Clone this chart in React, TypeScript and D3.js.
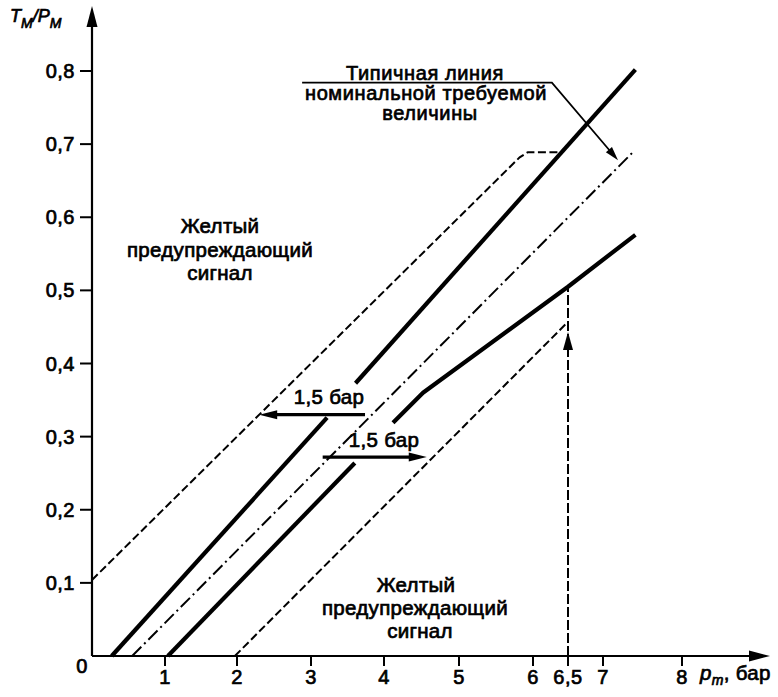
import React from 'react';
import * as d3 from 'd3';

// ---------- data (bar, T_M/P_M) ----------
const xTickValues = [1, 2, 3, 4, 5, 6, 6.5, 7, 8];
const xTickLabels = ['1', '2', '3', '4', '5', '6', '6,5', '7', '8'];
const yTickValues = [0.1, 0.2, 0.3, 0.4, 0.5, 0.6, 0.7, 0.8];
const yTickLabels = ['0,1', '0,2', '0,3', '0,4', '0,5', '0,6', '0,7', '0,8'];

const upperLimitDashed: [number, number][] = [[0, 0.104], [5.82, 0.682], [5.93, 0.689], [6.41, 0.689]];
const nominalDashDot: [number, number][] = [[0.55, 0], [7.37, 0.688]];
const upperSolidA: [number, number][] = [[0.27, 0], [3.22, 0.326]];
const upperSolidB: [number, number][] = [[3.61, 0.373], [7.41, 0.802]];
const lowerSolidA: [number, number][] = [[1.04, 0], [3.6, 0.264]];
const lowerSolidB: [number, number][] = [[4.12, 0.319], [4.52, 0.36], [6.5, 0.505], [7.41, 0.576]];
const lowerLimitDashed: [number, number][] = [[1.97, 0], [6.5, 0.457]];
const markerLine: [number, number][] = [[6.5, 0], [6.5, 0.505]];
const markerArrowTip: [number, number] = [6.5, 0.443];
const shiftLeft = { y: 0.33, from: 3.74, to: 2.3 };
const shiftRight = { y: 0.272, from: 3.16, to: 4.57 };
const leader: [number, number][] = [[2.88, 0.784], [6.27, 0.784], [7.19, 0.678]];

// ---------- scales ----------
const xDomain = [0, 1, 2, 3, 4, 5, 6, 7, 8];
const xRange = [92, 165, 237, 311, 384, 459, 533, 603, 682];
const x = d3.scaleLinear().domain(xDomain).range(xRange);
const y = d3.scaleLinear().domain([0, 0.8]).range([656, 71]);
const line = d3.line<[number, number]>().x(d => x(d[0])).y(d => y(d[1]));

const FONT = '"Liberation Sans", Arial, sans-serif';

function arrowHead(tx: number, ty: number, dx: number, dy: number, len: number, half: number) {
  const n = Math.hypot(dx, dy);
  const ux = dx / n, uy = dy / n;
  const bx = tx - ux * len, by = ty - uy * len;
  const px = -uy, py = ux;
  return `M${tx},${ty}L${bx + px * half},${by + py * half}L${bx - px * half},${by - py * half}Z`;
}

export default function App() {
  const x0 = x(0), y0 = y(0);
  const textStyle = { fontFamily: FONT, fontSize: 20.5, fill: '#000', stroke: '#000', strokeWidth: 0.7, letterSpacing: 0.3 } as const;
  const tickStyle = { ...textStyle, fontSize: 20, letterSpacing: 0.5 } as const;

  const la = shiftLeft, ra = shiftRight;
  const mTip = [x(markerArrowTip[0]), y(markerArrowTip[1])];
  const lead = leader.map(p => [x(p[0]), y(p[1])]);

  return (
    <svg width={778} height={697} style={{ position: 'absolute', left: 0, top: 0, background: '#fff' }}>
      <rect width={778} height={697} fill="#fff" />
      {/* axes */}
      <line x1={x0} y1={y0} x2={752} y2={y0} stroke="#000" strokeWidth={2.2} />
      <path d={arrowHead(770, y0, 1, 0, 21, 5.5)} fill="#000" />
      <line x1={x0} y1={y0} x2={x0} y2={24} stroke="#000" strokeWidth={2.2} />
      <path d={arrowHead(x0, 6, 0, -1, 21, 5.5)} fill="#000" />

      {xTickValues.map((v, i) => (
        <g key={'xt' + i}>
          <line x1={x(v)} x2={x(v)} y1={y0} y2={y0 + 10} stroke="#000" strokeWidth={2} />
          <text x={x(v)} y={684} textAnchor="middle" style={tickStyle}>{xTickLabels[i]}</text>
        </g>
      ))}
      <text x={82} y={673} textAnchor="middle" style={tickStyle}>0</text>
      {yTickValues.map((v, i) => (
        <g key={'yt' + i}>
          <line x1={x0 - 12} x2={x0} y1={y(v)} y2={y(v)} stroke="#000" strokeWidth={2} />
          <text x={75} y={y(v) + 7} textAnchor="end" style={tickStyle}>{yTickLabels[i]}</text>
        </g>
      ))}

      {/* axis titles */}
      <text x={10} y={22} style={{ ...textStyle, fontSize: 18, fontStyle: 'italic', letterSpacing: 0 }}>
        T<tspan fontSize={14} dy={6}>M</tspan><tspan dy={-6}>/</tspan>P<tspan fontSize={14} dy={6}>M</tspan>
      </text>
      <text x={700} y={680} style={{ ...textStyle, fontSize: 20.5 }}>
        <tspan fontStyle="italic">p</tspan><tspan fontStyle="italic" fontSize={14} dy={5}>m</tspan><tspan dy={-5}>, бар</tspan>
      </text>

      {/* curves */}
      <path d={line(upperLimitDashed)!} fill="none" stroke="#000" strokeWidth={2} strokeDasharray="8,3.5" />
      <path d={line(lowerLimitDashed)!} fill="none" stroke="#000" strokeWidth={2} strokeDasharray="8,3.5" />
      <path d={line(nominalDashDot)!} fill="none" stroke="#000" strokeWidth={2} strokeDasharray="13,4,2,4" />
      <path d={line(upperSolidA)!} fill="none" stroke="#000" strokeWidth={4.2} />
      <path d={line(upperSolidB)!} fill="none" stroke="#000" strokeWidth={4.2} />
      <path d={line(lowerSolidA)!} fill="none" stroke="#000" strokeWidth={4.2} />
      <path d={line(lowerSolidB)!} fill="none" stroke="#000" strokeWidth={4.2} strokeLinejoin="round" />
      <path d={line(markerLine)!} fill="none" stroke="#000" strokeWidth={2} strokeDasharray="10,3" />
      <path d={arrowHead(mTip[0], mTip[1], 0, -1, 18, 5)} fill="#000" />

      {/* 1,5 bar arrows */}
      <line x1={x(la.from)} y1={y(la.y)} x2={x(la.to) + 14} y2={y(la.y)} stroke="#000" strokeWidth={3.2} />
      <path d={arrowHead(x(la.to), y(la.y), -1, 0, 18, 4.5)} fill="#000" />
      <text x={329} y={404} textAnchor="middle" style={textStyle}>1,5 бар</text>
      <line x1={x(ra.from)} y1={y(ra.y)} x2={x(ra.to) - 14} y2={y(ra.y)} stroke="#000" strokeWidth={3.2} />
      <path d={arrowHead(x(ra.to), y(ra.y), 1, 0, 18, 4.5)} fill="#000" />
      <text x={384} y={447} textAnchor="middle" style={textStyle}>1,5 бар</text>

      {/* annotation leader */}
      <path d={`M${lead[0][0]},${lead[0][1]}L${lead[1][0]},${lead[1][1]}L${lead[2][0] - 6},${lead[2][1] - 7}`} fill="none" stroke="#000" strokeWidth={1.8} />
      <path d={arrowHead(lead[2][0], lead[2][1], lead[2][0] - lead[1][0], lead[2][1] - lead[1][1], 14, 4)} fill="#000" />
      <text textAnchor="middle" style={{ ...textStyle, fontSize: 20, letterSpacing: 0.6 }}>
        <tspan x={425} y={80}>Типичная линия</tspan>
        <tspan x={426} y={100}>номинальной требуемой</tspan>
        <tspan x={430} y={120}>величины</tspan>
      </text>

      {/* zone labels */}
      <text textAnchor="middle" style={textStyle}>
        <tspan x={220} y={233}>Желтый</tspan>
        <tspan x={220} y={257}>предупреждающий</tspan>
        <tspan x={220} y={280}>сигнал</tspan>
      </text>
      <text textAnchor="middle" style={textStyle}>
        <tspan x={416} y={592}>Желтый</tspan>
        <tspan x={415} y={615}>предупреждающий</tspan>
        <tspan x={420} y={638}>сигнал</tspan>
      </text>
    </svg>
  );
}
